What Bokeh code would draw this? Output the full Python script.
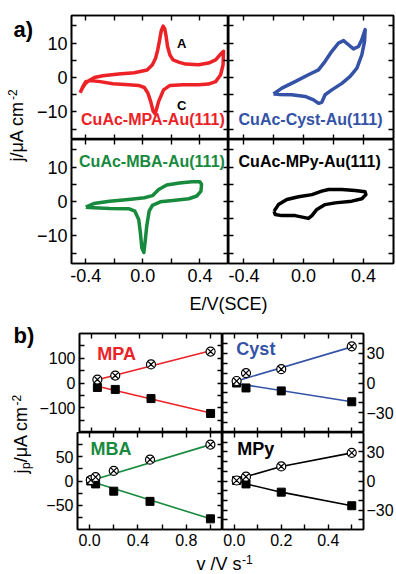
import numpy as np
from bokeh.plotting import figure
from bokeh.layouts import row, column
from bokeh.models import Range1d, LinearAxis, FixedTicker, NumeralTickFormatter
from bokeh.embed import file_html
from bokeh.resources import INLINE
from bokeh.core.properties import value

FONT = "Liberation Sans"
RED = "#EC2227"
BLUE = "#3453A6"
GREEN = "#188A3E"
BLACK = "#000000"

# ---------------- panel a: cyclic voltammograms (E / V, j / uA cm-2) ----------------
mpa_E = [-0.44, -0.42, -0.40, -0.37, -0.34, -0.28, -0.17, -0.06, 0.03, 0.067, 0.089, 0.104, 0.118,
         0.129, 0.142, 0.153, 0.162, 0.173, 0.189, 0.211, 0.256, 0.30, 0.39, 0.46, 0.51, 0.54, 0.565,
         0.562, 0.545, 0.51, 0.46, 0.39, 0.28, 0.19, 0.145, 0.11, 0.095, 0.085, 0.072, 0.055, 0.035,
         0.01, -0.03, -0.10, -0.21, -0.30, -0.37, -0.40, -0.42, -0.44]
mpa_j = [-4.4, -2.8, -1.6, -0.7, 0.0, 0.5, 1.0, 1.4, 2.2, 3.7, 5.6, 8.0, 11.0,
         13.6, 14.9, 14.2, 12.2, 9.0, 6.6, 5.1, 4.4, 3.9, 3.7, 4.2, 5.1, 6.6, 7.6,
         3.7, 0.8, -1.2, -1.9, -2.1, -2.1, -2.3, -3.6, -7.0, -9.3, -10.5, -9.8, -7.0, -4.5,
         -2.9, -2.3, -2.1, -1.8, -1.2, -0.9, -1.2, -2.6, -4.4]

cyst_E = [-0.20, -0.144, -0.056, 0.033, 0.10, 0.144, 0.189, 0.233, 0.267, 0.30, 0.333, 0.367, 0.389,
          0.411, 0.407, 0.389, 0.356, 0.311, 0.256, 0.189, 0.144, 0.122, 0.10, 0.067, 0.011, -0.078,
          -0.167, -0.20]
cyst_j = [-4.8, -3.1, -1.2, 0.8, 2.2, 4.7, 7.6, 10.0, 10.7, 9.5, 8.3, 9.0, 11.0,
          13.9, 10.5, 6.6, 2.7, 0.3, -1.7, -3.6, -5.0, -7.2, -7.5, -6.5, -5.5, -5.0,
          -4.9, -4.8]

mba_E = [-0.40, -0.344, -0.233, -0.10, 0.011, 0.067, 0.111, 0.167, 0.256, 0.344, 0.40, 0.411, 0.407,
         0.378, 0.322, 0.211, 0.122, 0.067, 0.044, 0.027, 0.016, 0.007, -0.007, -0.016, -0.029,
         -0.056, -0.10, -0.233, -0.344, -0.40]
mba_j = [-1.65, -0.6, 0.1, 0.6, 1.1, 1.7, 3.5, 4.8, 5.4, 5.7, 5.7, 5.0, 3.0,
         1.6, 0.8, 0.3, -0.1, -1.1, -2.8, -7.2, -11.6, -14.8, -13.5, -9.6, -5.2,
         -2.8, -2.1, -2.0, -1.8, -1.65]

mpy_E = [-0.196, -0.167, -0.111, -0.033, 0.056, 0.122, 0.167, 0.256, 0.344, 0.411, 0.416, 0.389,
         0.322, 0.211, 0.144, 0.089, 0.056, 0.033, 0.0, -0.056, -0.144, -0.189, -0.196]
mpy_j = [-2.8, -0.9, 0.6, 1.4, 2.0, 3.0, 3.5, 3.5, 3.2, 2.8, 2.0, 0.8,
         0.1, -0.4, -0.9, -2.3, -4.1, -4.9, -4.6, -4.1, -4.1, -3.8, -2.8]

# ---------------- panel b: peak current vs scan rate ----------------
mpa_v = [0.05, 0.2, 0.5, 1.0]
mpa_ja = [14, 30, 75, 127]
mpa_jc = [-18, -26, -63, -123]
mpa_fit_v = [0.05, 1.0]
mpa_fit_a = [13, 130]
mpa_fit_c = [-13, -121]

cyst_v = [0.01, 0.05, 0.2, 0.5]
cyst_ja = [2, 10, 14, 37]
cyst_jc = [0, -5, -8, -19]
cyst_fit_v = [0.01, 0.5]
cyst_fit_a = [2, 36.5]
cyst_fit_c = [-0.5, -19]

mba_v = [0.01, 0.05, 0.2, 0.5, 1.0]
mba_ja = [2, 8, 21, 44, 75]
mba_jc = [0, -6, -21, -42, -78]
mba_fit_v = [0.0, 1.0]
mba_fit_a = [0, 75]
mba_fit_c = [0, -78]

mpy_v = [0.01, 0.05, 0.2, 0.5]
mpy_ja = [0.5, 4.5, 15, 29]
mpy_jc = [0.5, -3, -11.5, -25.5]


def base(w, h, xr, yr, ml, mr, mt, mb):
    p = figure(width=w, height=h, x_range=Range1d(*xr), y_range=Range1d(*yr),
               x_axis_location=None, y_axis_location=None, toolbar_location=None,
               title_location=None, output_backend="svg", min_border_left=ml,
               min_border_right=mr, min_border_top=mt, min_border_bottom=mb)
    p.grid.visible = False
    p.outline_line_color = "black"
    p.outline_line_width = 1.6
    p.background_fill_color = "white"
    p.border_fill_color = "white"
    return p


def axis(p, loc, major, minor, show=False, fs="18px", standoff=4, fmt=None):
    if show:
        ax = LinearAxis(ticker=FixedTicker(ticks=major, minor_ticks=minor))
        ax.major_label_text_font = FONT
        ax.major_label_text_font_size = fs
        ax.major_label_text_color = "black"
        ax.major_label_standoff = standoff
        if fmt:
            ax.formatter = NumeralTickFormatter(format=fmt)
    else:
        # ticks only: every tick drawn as a minor tick, so no labels exist
        ax = LinearAxis(ticker=FixedTicker(ticks=[], minor_ticks=sorted(major + minor)))
        ax.major_label_standoff = 0
    ax.axis_line_width = 1.6
    ax.major_tick_in = 5
    ax.major_tick_out = 0
    ax.minor_tick_in = 5
    ax.minor_tick_out = 0
    ax.major_tick_line_width = 1.4
    ax.minor_tick_line_width = 1.4
    p.add_layout(ax, loc)


K = 0.37  # compensation so that the given y is the text baseline


def txt(p, x, y, s, size, color="black", bold=False, align="left", angle=0.0):
    px = float(size.replace("px", ""))
    if angle:
        xo, yo = -K * px, 0
    else:
        xo, yo = 0, -K * px
    p.text(x=[x], y=[y], text=[s], text_font=value(FONT), text_font_size=size,
           text_font_style="bold" if bold else "normal", text_color=color,
           text_align=align, text_baseline="alphabetic", angle=angle,
           x_offset=xo, y_offset=yo)


def label_fig(w, h):
    p = figure(width=w, height=h, x_range=Range1d(0, w), y_range=Range1d(0, h),
               x_axis_location=None, y_axis_location=None, toolbar_location=None,
               title_location=None, output_backend="svg", min_border=0)
    p.grid.visible = False
    p.outline_line_color = None
    p.background_fill_color = "white"
    p.border_fill_color = "white"
    return p


# ---------------- panel a ----------------
AX = (-0.5, 0.6)
AY = (-18, 18)
XT, XM = [-0.4, 0.0, 0.4], [-0.2, 0.2]
YT, YM = [-10, 0, 10], [-15, -5, 5, 15]

TL = base(195, 139, AX, AY, 30, 0, 15, 0)
axis(TL, "left", YT, YM, True, "18px", 4)
axis(TL, "right", YT, YM)
axis(TL, "above", XT, XM)
axis(TL, "below", XT, XM)
TL.line(mpa_E, mpa_j, line_color=RED, line_width=3.5, line_join="round")
txt(TL, -0.433, -13.9, "CuAc-MPA-Au(111)", "16px", RED, True)
txt(TL, 0.24, 8.4, "A", "13px", BLACK, True)
txt(TL, 0.24, -9.6, "C", "13px", BLACK, True)

TR = base(168, 139, AX, AY, 0, 3, 15, 0)
axis(TR, "left", YT, YM)
axis(TR, "right", YT, YM)
axis(TR, "above", XT, XM)
axis(TR, "below", XT, XM)
TR.line(cyst_E, cyst_j, line_color=BLUE, line_width=3.5, line_join="round")
txt(TR, -0.433, -13.9, "CuAc-Cyst-Au(111)", "16px", BLUE, True)

BL = base(195, 151, AX, AY, 30, 0, 0, 27)
axis(BL, "left", YT, YM, True, "18px", 4)
axis(BL, "right", YT, YM)
axis(BL, "above", XT, XM)
axis(BL, "below", XT, XM, True, "18px", 5, "0.0")
BL.line(mba_E, mba_j, line_color=GREEN, line_width=3.5, line_join="round")
txt(BL, -0.447, 9.9, "CuAc-MBA-Au(111)", "16px", GREEN, True)

BR = base(168, 151, AX, AY, 0, 3, 0, 27)
axis(BR, "left", YT, YM)
axis(BR, "right", YT, YM)
axis(BR, "above", XT, XM)
axis(BR, "below", XT, XM, True, "18px", 5, "0.0")
BR.line(mpy_E, mpy_j, line_color=BLACK, line_width=3.5, line_join="round")
txt(BR, -0.433, 9.9, "CuAc-MPy-Au(111)", "16px", BLACK, True)

labA = label_fig(33, 320)
txt(labA, 13, 283, "a)", "22px", BLACK, True)
txt(labA, 23, 159, "j/\u03bcA cm", "18px", BLACK, False, "left", np.pi / 2)
txt(labA, 16, 220.5, "-2", "12px", BLACK, False, "left", np.pi / 2)

xlabA = label_fig(363, 30)
txt(xlabA, 195, 10, "E/V(SCE)", "18px", BLACK, False, "center")

# ---------------- panel b ----------------
LX, RX = (-0.1, 1.1), (-0.05, 0.55)
LXT, LXM = [0.0, 0.4, 0.8], [0.2, 0.6, 1.0]
RXT, RXM = [0.0, 0.2, 0.4], [0.1, 0.3, 0.5]
RYT, RYM = [-30, 0, 30], [-40, -20, -10, 10, 20, 40]


def points(p, v, ja, jc, fv, fa, fc, color):
    p.line(fv, fa, line_color=color, line_width=1.6)
    p.line(fv, fc, line_color=color, line_width=1.6)
    p.scatter(v, jc, marker="square", size=8, fill_color="black", line_color="black")
    p.scatter(v, ja, marker="circle_x", size=9, fill_color="white", line_color="black",
              line_width=1.2)


TLb = base(186, 112, LX, (-200, 200), 41, 0, 13, 0)
axis(TLb, "left", [-100, 0, 100], [-150, -50, 50, 150], True, "16px", 4)
axis(TLb, "right", [-100, 0, 100], [-150, -50, 50, 150])
axis(TLb, "above", LXT, LXM)
axis(TLb, "below", LXT, LXM)
points(TLb, mpa_v, mpa_ja, mpa_jc, mpa_fit_v, mpa_fit_a, mpa_fit_c, RED)
txt(TLb, 0.049, 91, "MPA", "18px", RED, True)

TRb = base(174, 112, RX, (-50, 50), 0, 31, 13, 0)
axis(TRb, "left", RYT, RYM)
axis(TRb, "right", RYT, RYM, True, "16px", 3)
axis(TRb, "above", RXT, RXM)
axis(TRb, "below", RXT, RXM)
points(TRb, cyst_v, cyst_ja, cyst_jc, cyst_fit_v, cyst_fit_a, cyst_fit_c, BLUE)
txt(TRb, 0.009, 27.8, "Cyst", "18px", BLUE, True)

BLb = base(186, 122, LX, (-100, 100), 41, 0, 0, 25)
axis(BLb, "left", [-50, 0, 50], [-75, -25, 25, 75], True, "16px", 4)
axis(BLb, "right", [-50, 0, 50], [-75, -25, 25, 75])
axis(BLb, "above", LXT, LXM)
axis(BLb, "below", LXT, LXM, True, "16px", 4, "0.0")
points(BLb, mba_v, mba_ja, mba_jc, mba_fit_v, mba_fit_a, mba_fit_c, GREEN)
txt(BLb, 0.007, 52.6, "MBA", "18px", GREEN, True)

BRb = base(174, 122, RX, (-50, 50), 0, 31, 0, 25)
axis(BRb, "left", RYT, RYM)
axis(BRb, "right", RYT, RYM, True, "16px", 3)
axis(BRb, "above", RXT, RXM)
axis(BRb, "below", RXT, RXM, True, "16px", 4, "0.0")
points(BRb, mpy_v, mpy_ja, mpy_jc, mpy_v, mpy_ja, mpy_jc, BLACK)
txt(BRb, 0.013, 26.3, "MPy", "18px", BLACK, True)

labB = label_fig(36, 254)
txt(labB, 13, 231, "b)", "22px", BLACK, True)
txt(labB, 27, 101, "j", "18px", BLACK, False, "left", np.pi / 2)
txt(labB, 30, 105.5, "p", "12px", BLACK, False, "left", np.pi / 2)
txt(labB, 27, 112.2, "/\u03bcA cm", "18px", BLACK, False, "left", np.pi / 2)
txt(labB, 20, 169, "-2", "12px", BLACK, False, "left", np.pi / 2)

xlabB = label_fig(360, 20)
txt(xlabB, 160, 4, "v /V s", "18px", BLACK, False, "left")
txt(xlabB, 205.5, 11, "-1", "12px", BLACK, False, "left")

panel_a = row(labA, column(row(TL, TR), row(BL, BR), xlabA))
panel_b = row(labB, column(row(TLb, TRb), row(BLb, BRb), xlabB))
layout = column(panel_a, panel_b)

open("out.html", "w").write(file_html(layout, INLINE, "CV"))
